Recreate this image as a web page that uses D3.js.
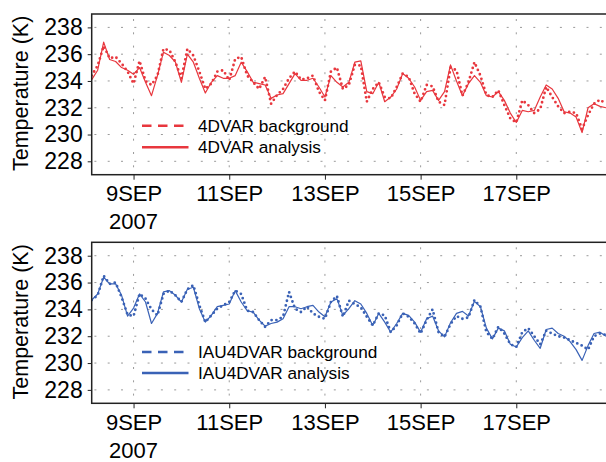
<!DOCTYPE html>
<html><head><meta charset="utf-8">
<script src="https://cdn.jsdelivr.net/npm/d3@7"></script>
<style>
body{margin:0;background:#fff}
svg{display:block}
text{font-family:"Liberation Sans",Arial,Helvetica,sans-serif;fill:#000}
</style>
</head><body>
<svg id="c" width="606" height="462"></svg>
<script>
// ---- data ----
const xTickDays = [9, 11, 13, 15, 17];
const xTickLabels = ["9SEP", "11SEP", "13SEP", "15SEP", "17SEP"];
const yearLabel = "2007";
const yTicks = [228, 230, 232, 234, 236, 238];
const yTitle = "Temperature (K)";
const startDay = 8.125, stepDay = 0.125; // 3-hourly samples

const bg4dvar = [234.4,235.15,236.6,235.7,235.8,235.3,234.7,233.8,235.5,234.0,
 233.7,234.4,236.4,236.3,235.4,234.2,236.4,235.9,234.7,233.4,
 233.8,234.7,234.8,234.05,235.65,235.8,234.4,233.9,233.4,234.3,
 232.3,232.95,233.4,234.2,234.7,234.1,234.2,234.4,233.2,232.55,
 234.7,235.0,233.4,233.7,235.2,235.15,232.45,233.4,233.9,232.8,
 232.7,233.55,234.55,234.3,233.05,232.45,233.7,233.6,232.45,232.2,
 235.0,234.8,232.9,233.9,235.4,234.4,232.95,232.8,233.3,232.2,
 231.2,230.9,232.55,232.2,231.6,231.9,233.55,232.8,232.1,231.6,
 231.7,231.6,230.4,231.45,232.3,232.6,232.3];
const an4dvar = [234.1,234.8,236.9,235.6,235.45,235.0,234.8,234.5,235.0,233.9,
 232.9,234.4,236.15,235.9,235.4,233.9,236.0,235.4,234.2,233.1,
 233.9,234.4,234.2,234.2,234.4,235.4,234.7,233.9,233.8,233.7,
 232.7,232.95,233.05,233.8,234.55,234.05,234.05,234.2,233.55,232.8,
 234.4,233.9,233.55,233.9,235.4,235.5,233.2,233.05,233.9,232.45,
 232.8,233.4,234.55,234.2,233.55,232.55,233.2,233.3,232.55,233.2,
 235.2,234.0,232.9,233.8,234.4,233.9,232.9,232.8,233.2,232.55,
 231.6,230.9,231.8,231.7,231.8,232.8,233.7,233.4,232.7,231.7,
 231.6,231.3,230.15,232.0,232.3,232.1,232.0];
const bgIau = [234.7,235.05,236.5,235.9,236.0,234.9,233.6,233.5,235.15,234.8,
 234.0,233.55,235.15,235.4,235.05,234.55,235.5,235.8,234.3,233.05,
 233.55,234.05,234.3,234.55,235.4,235.15,233.9,233.8,233.2,232.7,
 233.2,233.2,233.45,235.3,234.05,233.8,234.2,233.7,233.45,233.3,
 234.55,235.0,233.45,234.65,234.4,234.15,233.45,232.8,233.7,233.55,
 232.3,232.8,233.7,233.45,232.95,232.2,233.2,234.0,232.3,231.95,
 232.9,233.5,233.3,233.4,234.7,234.2,232.3,231.8,232.7,232.2,
 231.4,231.2,232.3,232.6,232.0,231.4,232.4,232.2,232.0,231.9,
 231.7,231.5,231.3,231.0,232.0,232.2,232.1];
const anIau = [234.7,235.15,236.4,235.9,235.9,235.05,233.5,234.1,235.15,234.55,
 232.95,233.7,235.3,235.4,235.05,234.55,235.5,235.65,234.05,233.05,
 233.55,234.2,234.3,234.4,235.4,234.55,233.9,233.8,233.2,232.75,
 232.95,233.05,233.3,234.2,234.2,234.05,234.2,234.3,233.8,233.45,
 234.55,234.8,233.55,234.05,234.65,234.4,233.7,232.8,233.7,233.05,
 232.3,232.95,233.7,233.55,233.05,232.3,233.3,233.5,232.4,231.95,
 233.0,233.7,233.85,233.5,234.6,234.2,232.6,231.8,232.6,232.4,
 231.4,231.2,231.9,232.4,231.7,231.1,232.5,232.6,232.2,232.0,
 231.6,231.0,230.2,231.3,232.2,232.3,232.0];

// ---- layout ----
const svg = d3.select("#c");
const x = d3.scaleLinear().domain([8.125, 18.875]).range([91.7, 606]);
const panels = [
  {top: 14, bottom: 174.7, bg: bg4dvar, an: an4dvar, color: "#e8373e",
   names: ["4DVAR background", "4DVAR analysis"], legY: [125.7, 147.3]},
  {top: 242.3, bottom: 403.3, bg: bgIau, an: anIau, color: "#3a62b6",
   names: ["IAU4DVAR background", "IAU4DVAR analysis"], legY: [352, 373]}
];

panels.forEach((p, k) => {
  const y = d3.scaleLinear().domain([227, 239]).range([p.bottom, p.top]);
  const g = svg.append("g");
  const left = x.range()[0], right = 606;

  const cid = "clip" + k;
  svg.append("clipPath").attr("id", cid).append("rect")
    .attr("x", left).attr("y", p.top).attr("width", right - left).attr("height", p.bottom - p.top);

  // grid
  g.append("g").selectAll("line").data(yTicks).join("line")
    .attr("x1", left + 1).attr("x2", right).attr("y1", d => y(d)).attr("y2", d => y(d))
    .attr("stroke", "#9a9a9a").attr("stroke-width", 1)
    .attr("stroke-dasharray", "2,11.3").attr("stroke-dashoffset", -1.7);
  g.append("g").selectAll("line").data(xTickDays).join("line")
    .attr("x1", d => x(d)).attr("x2", d => x(d)).attr("y1", p.top + 1).attr("y2", p.bottom)
    .attr("stroke", "#9a9a9a").attr("stroke-width", 1)
    .attr("stroke-dasharray", "2,11.3").attr("stroke-dashoffset", -4);

  // data
  const line = d3.line().x((d, i) => x(startDay + i * stepDay)).y(d => y(d));
  const dg = g.append("g").attr("clip-path", `url(#${cid})`);
  dg.append("path").datum(p.an).attr("d", line)
    .attr("fill", "none").attr("stroke", p.color).attr("stroke-width", 1.2)
    .attr("stroke-linejoin", "round");
  dg.append("path").datum(p.bg).attr("d", line)
    .attr("fill", "none").attr("stroke", p.color).attr("stroke-width", 2.8)
    .attr("stroke-linecap", "round").attr("stroke-dasharray", "0,4.8");

  // frame
  g.append("rect").attr("x", left).attr("y", p.top)
    .attr("width", 640 - left).attr("height", p.bottom - p.top)
    .attr("fill", "none").attr("stroke", "#222").attr("stroke-width", 1.5);

  // y axis
  const ya = g.append("g").attr("transform", `translate(${left},0)`)
    .call(d3.axisLeft(y).tickValues(yTicks).tickSize(4).tickPadding(5));
  ya.select(".domain").remove();
  ya.selectAll("line").attr("stroke", "#222");
  ya.selectAll("text").style("font-size", "23px").attr("fill", "#000");

  // x axis
  const xa = g.append("g").attr("transform", `translate(0,${p.bottom})`)
    .call(d3.axisBottom(x).tickValues(xTickDays).tickSize(5)
      .tickFormat((d, i) => xTickLabels[i]).tickPadding(4));
  xa.select(".domain").remove();
  xa.selectAll("line").attr("stroke", "#222");
  xa.selectAll("text").style("font-size", "22px").attr("fill", "#000").attr("dy", null)
    .attr("y", 26.5);
  g.append("text").attr("x", x(xTickDays[0])).attr("y", p.bottom + 54.5)
    .attr("text-anchor", "middle").style("font-size", "22px").text(yearLabel);

  // y title
  g.append("text")
    .attr("transform", `translate(28,${(p.top + p.bottom) / 2 - 1}) rotate(-90)`)
    .attr("text-anchor", "middle").style("font-size", "21.5px").text(yTitle);

  // legend
  const lx0 = 142, lx1 = 188.5;
  g.append("line").attr("x1", lx0).attr("x2", lx1).attr("y1", p.legY[0]).attr("y2", p.legY[0])
    .attr("stroke", p.color).attr("stroke-width", 2.4).attr("stroke-dasharray", "9.5,6.5");
  g.append("line").attr("x1", lx0).attr("x2", lx1).attr("y1", p.legY[1]).attr("y2", p.legY[1])
    .attr("stroke", p.color).attr("stroke-width", 2.4);
  p.names.forEach((n, j) => {
    g.append("text").attr("x", 198).attr("y", p.legY[j] + 6)
      .style("font-size", "17.2px").text(n);
  });
});
</script>
</body></html>
